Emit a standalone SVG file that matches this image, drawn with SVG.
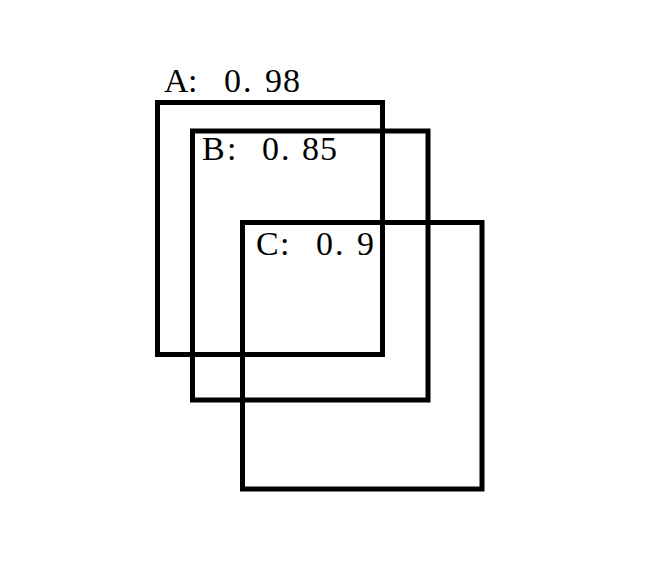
<svg xmlns="http://www.w3.org/2000/svg" width="669" height="564" viewBox="0 0 669 564">
<style>
.box{fill:none;stroke:#000;stroke-width:5}
.lbl{font-family:"Liberation Serif","Noto Sans CJK SC",serif;font-size:34px;fill:#000}
</style>
<rect width="669" height="564" fill="#fff"/>
<g id="A">
<rect class="box" x="157.5" y="102.5" width="225" height="252"/>
<text class="lbl" x="164 188 200 224 243 265 283" y="92">A: 0.98</text>
</g>
<g id="B">
<rect class="box" x="192.5" y="131" width="235.5" height="269"/>
<text class="lbl" x="202 227 238 262 281 302 320" y="160">B: 0.85</text>
</g>
<g id="C">
<rect class="box" x="242.5" y="222.5" width="239.5" height="266.5"/>
<text class="lbl" x="256 280 292 316 335 357" y="255">C: 0.9</text>
</g>
<g id="connectors"></g>
</svg>
